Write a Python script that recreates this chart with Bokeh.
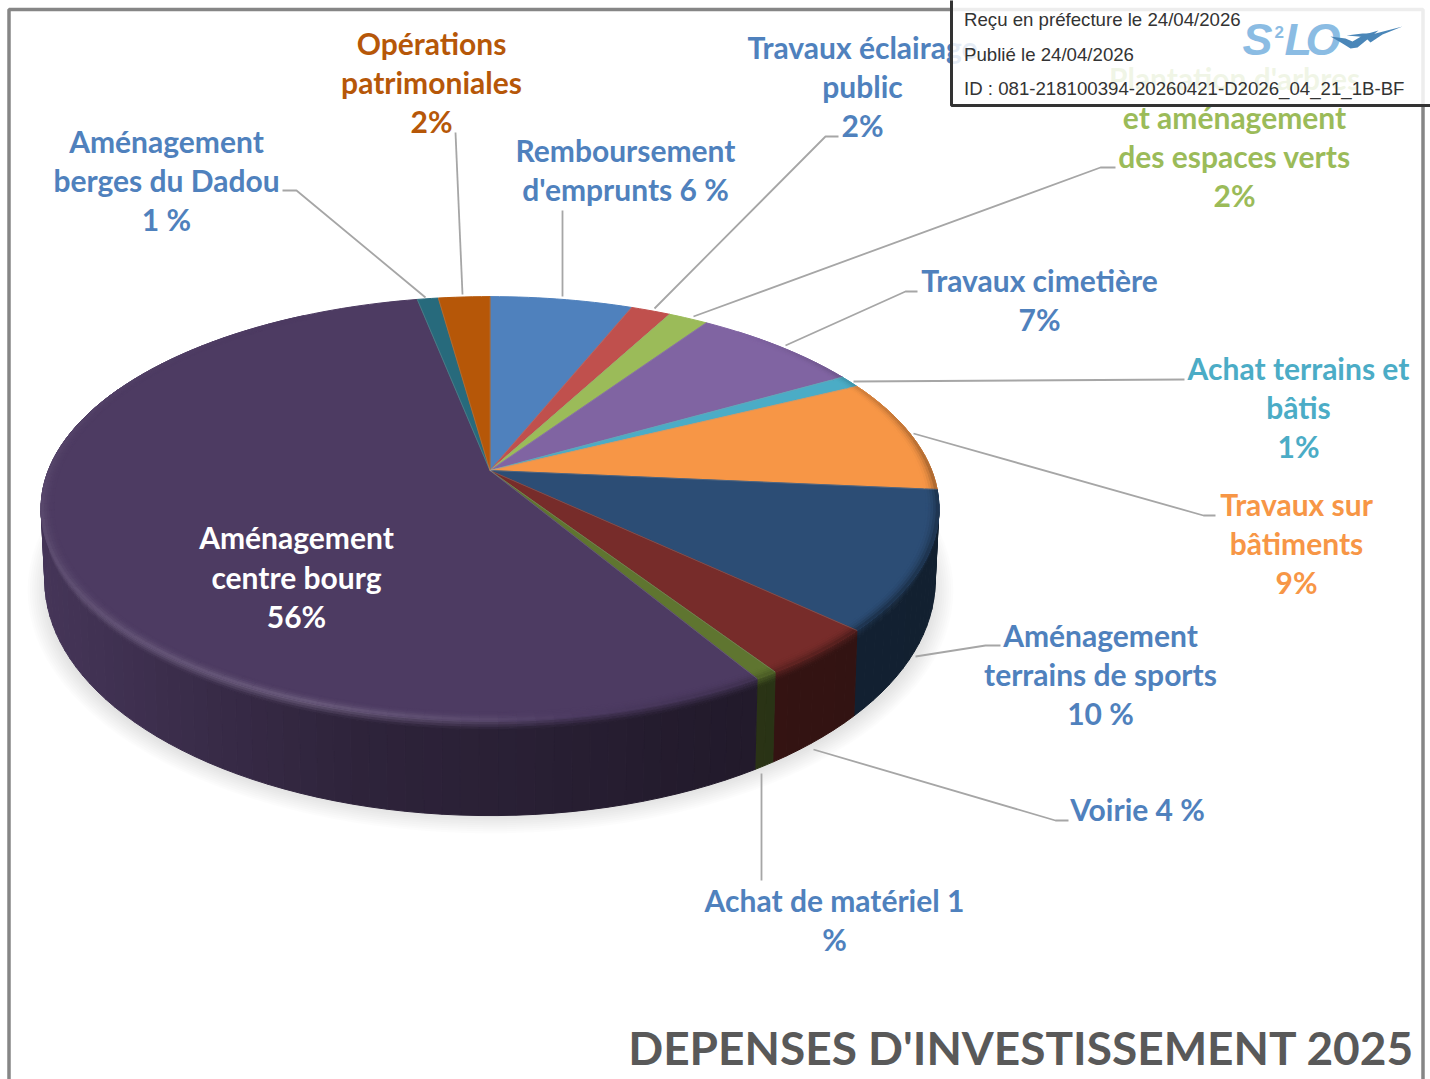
import math
import numpy as np
from bokeh.plotting import figure
from bokeh.models import Range1d
from bokeh.core.properties import value
from bokeh.embed import file_html
from bokeh.resources import INLINE

# ---------- data ----------
categories = ["Remboursement d'emprunts", "Travaux éclairage public",
              "Plantation d'arbres et aménagement des espaces verts", "Travaux cimetière",
              "Achat terrains et bâtis", "Travaux sur bâtiments", "Aménagement terrains de sports",
              "Voirie", "Achat de matériel", "Aménagement centre bourg",
              "Aménagement berges du Dadou", "Opérations patrimoniales"]
shares = [6.1, 1.7, 1.7, 7.25, 0.95, 8.75, 10.55, 3.75, 0.7, 55.45, 0.9, 2.2]
face_colors = ["#4f81bd", "#c0504d", "#9bbb59", "#8064a2", "#4bacc6", "#f79646",
               "#2c4d75", "#772c2a", "#5f7530", "#4d3b62", "#276a7c", "#b65708"]

BLUE, TEAL, GREEN, ORANGE, RUST = "#4f81bd", "#4bacc6", "#9bbb59", "#f79646", "#b65708"
labels = [
    (["Aménagement", "berges du Dadou", "1 %"], 166, [142, 181, 220], BLUE),
    (["Opérations", "patrimoniales", "2%"], 431, [44, 83, 122], RUST),
    (["Remboursement", "d'emprunts 6 %"], 625, [151, 190], BLUE),
    (["Travaux éclairage", "public", "2%"], 862, [48, 87, 126], BLUE),
    (["Plantation d'arbres", "et aménagement", "des espaces verts", "2%"], 1234, [79, 118, 157, 196], GREEN),
    (["Travaux cimetière", "7%"], 1039, [281, 320], BLUE),
    (["Achat terrains et", "bâtis", "1%"], 1298, [369, 408, 447], TEAL),
    (["Travaux sur", "bâtiments", "9%"], 1296, [505, 544, 583], ORANGE),
    (["Aménagement", "terrains de sports", "10 %"], 1100, [636, 675, 714], BLUE),
    (["Voirie 4 %"], 1137, [810], BLUE),
    (["Achat de matériel 1", "%"], 834, [901, 940], BLUE),
    (["Aménagement", "centre bourg", "56%"], 296, [538, 578, 617], "#ffffff"),
]
leaders = [
    ([282, 296, 425], [190, 190, 297]),
    ([455, 462], [132, 294]),
    ([562, 562], [210, 296]),
    ([838, 825, 654], [136, 136, 308]),
    ([1115, 1100, 693], [167, 167, 316]),
    ([917, 905, 785], [291, 291, 345]),
    ([1184, 853], [379, 381]),
    ([1215, 1203, 913], [515, 515, 433]),
    ([1000, 985, 915], [645, 645, 656]),
    ([1068, 1055, 813], [820, 820, 749]),
    ([761, 761], [880, 773]),
]
title = "DEPENSES D'INVESTISSEMENT 2025"
stamp_lines = ["Reçu en préfecture le 24/04/2026", "Publié le 24/04/2026",
               "ID : 081-218100394-20260421-D2026_04_21_1B-BF"]

# ---------- perspective pie model (screen pixels) ----------
K = 0.179
TOP = dict(cx=489.5, cy=470.0, R=441.7, S=205.0)
BOT = dict(cx=489.5, cy=538.0, R=438.0, S=227.5)


def proj(deg, rho, m):
    t = np.radians(deg)
    u, v = rho * np.sin(t), rho * np.cos(t)
    d = 1 + K * v
    return m["cx"] + m["R"] * u / d, m["cy"] - m["S"] * v / d


def rgb(h):
    return np.array([int(h[i:i + 2], 16) for i in (1, 3, 5)], dtype=float)


def tohex(c):
    c = np.clip(np.round(c), 0, 255).astype(int)
    return "#%02x%02x%02x" % tuple(c)


def side_col(base, sx):
    f = np.interp(sx, [40, 100, 200, 350, 500, 700, 860, 940],
                  [.90, .84, .74, .60, .54, .45, .42, .41])
    return base * f


def rim_col(base, deg):
    d = deg % 360
    h = np.interp(d, [0, 40, 90, 130, 150, 180, 200, 240, 270, 300, 330, 360],
                  [0, 0, -.35, -.4, -.2, .08, .18, .12, .06, .02, 0, 0])
    return base + (255 - base) * h if h >= 0 else base * (1 + h)


p = figure(width=1430, height=1079, x_range=Range1d(0, 1430), y_range=Range1d(1079, 0),
           toolbar_location=None, output_backend="svg", min_border=0,
           outline_line_color=None, background_fill_color="#ffffff")
p.xaxis.visible = False
p.yaxis.visible = False
p.grid.visible = False

# frame
p.line([8.5, 8.5, 1422.5, 1422.5], [1085, 9, 9, 1085], line_color="#868686", line_width=3.5)

# soft shadow
for i in range(12):
    p.ellipse(x=[490], y=[590], width=[2 * (463 - i * 2.2)], height=[2 * (243 - i * 2.0)],
              fill_color="#000000", fill_alpha=0.013, line_color=None)

edges = np.cumsum([0] + shares) / sum(shares) * 360
xs, ys, cols = [], [], []


def add(px, py, c):
    xs.append(list(np.round(px, 2)))
    ys.append(list(np.round(py, 2)))
    cols.append(c)


# side wall
W = [0, .025, .05, .075, .10, 1]
for a, b, fc in zip(edges[:-1], edges[1:], face_colors):
    base = rgb(fc)
    lo, hi = max(a, 65), min(b, 295)
    if hi <= lo:
        continue
    n = max(1, math.ceil((hi - lo) / 2))
    th = np.linspace(lo, hi, n + 1)
    for t0, t1 in zip(th[:-1], th[1:]):
        tx0, ty0 = proj(t0, 1, TOP); tx1, ty1 = proj(t1, 1, TOP)
        bx0, by0 = proj(t0, 1, BOT); bx1, by1 = proj(t1, 1, BOT)
        mid = (t0 + t1) / 2
        sc = side_col(base, (tx0 + tx1) / 2)
        rc = rim_col(base, mid)
        for w0, w1 in zip(W[:-1], W[1:]):
            mix = min(1, ((w0 + w1) / 2) / .10)
            c = rc + (sc - rc) * mix
            add([tx0 + (bx0 - tx0) * w0, tx1 + (bx1 - tx1) * w0, tx1 + (bx1 - tx1) * w1, tx0 + (bx0 - tx0) * w1],
                [ty0 + (by0 - ty0) * w0, ty1 + (by1 - ty1) * w0, ty1 + (by1 - ty1) * w1, ty0 + (by0 - ty0) * w1],
                tohex(c))

# top face: flat wedges
for a, b, fc in zip(edges[:-1], edges[1:], face_colors):
    th = np.linspace(a, b, max(2, math.ceil((b - a) / 1.5)) + 1)
    rx, ry = proj(th, 1.0, TOP)
    add([TOP["cx"]] + list(rx), [TOP["cy"]] + list(ry), fc)

# top face: bevel close to the rim
R = np.linspace(.972, 1.0, 6)
for a, b, fc in zip(edges[:-1], edges[1:], face_colors):
    base = rgb(fc)
    n = max(1, math.ceil((b - a) / 2))
    th = np.linspace(a, b, n + 1)
    for t0, t1 in zip(th[:-1], th[1:]):
        rc = rim_col(base, (t0 + t1) / 2)
        if np.allclose(rc, base):
            continue
        for r0, r1 in zip(R[:-1], R[1:]):
            mix = (((r0 + r1) / 2 - R[0]) / (R[-1] - R[0])) ** 2
            x0, y0 = proj(t0, r0, TOP); x1, y1 = proj(t1, r0, TOP)
            x2, y2 = proj(t1, r1, TOP); x3, y3 = proj(t0, r1, TOP)
            add([x0, x1, x2, x3], [y0, y1, y2, y3], tohex(base + (rc - base) * mix))

p.patches(xs, ys, fill_color=cols, line_color=cols, line_width=1.0)

# seams between slices
sx, sy = proj(edges[:-1], 1.0, TOP)
p.segment(x0=[TOP["cx"]] * len(sx), y0=[TOP["cy"]] * len(sx), x1=list(sx), y1=list(sy),
          line_color="#9a9a9a", line_alpha=0.4, line_width=0.8)

# leader lines
p.multi_line([l[0] for l in leaders], [l[1] for l in leaders], line_color="#a6a6a6", line_width=1.8)

# labels
FONT = value("Lato")
for lines, cx, yy, c in labels:
    p.text(x=[cx] * len(lines), y=[v - 2 for v in yy], text=lines, text_color=c, text_font=FONT,
           text_font_style="bold", text_font_size="30px", text_align="center", text_baseline="middle")

p.text(x=[1414], y=[1047], text=[title], text_color="#595959", text_font=FONT, text_font_style="bold",
       text_font_size="46px", text_align="right", text_baseline="middle")

# stamp
p.quad(left=[951], right=[1436], top=[-4], bottom=[105], fill_color="#ffffff", fill_alpha=0.85,
       line_color="#333333", line_width=3)
p.text(x=[963.5] * 3, y=[19, 54, 88], text=stamp_lines, text_color="#333333",
       text_font=value("Liberation Sans"), text_font_size="18.65px", text_align="left", text_baseline="middle")

# logo
LOGO = "#8bbce3"
p.text(x=[1242], y=[39], text=["S"], text_color=LOGO, text_font=value("Liberation Sans"),
       text_font_style="bold italic", text_font_size="45px", text_baseline="middle")
p.text(x=[1274], y=[31], text=["2"], text_color=LOGO, text_font=value("Liberation Sans"),
       text_font_style="bold", text_font_size="17px", text_baseline="middle")
p.text(x=[1284], y=[39], text=["L"], text_color=LOGO, text_font=value("Liberation Sans"),
       text_font_style="bold italic", text_font_size="45px", text_baseline="middle")
p.text(x=[1305], y=[39], text=["O"], text_color=LOGO, text_font=value("Liberation Sans"),
       text_font_style="bold italic", text_font_size="45px", text_baseline="middle")
p.patches([[1330, 1345, 1352, 1364, 1378, 1368, 1357, 1350, 1342],
           [1346, 1362, 1375, 1402, 1382, 1370, 1365, 1358]],
          [[36, 38, 41, 34, 30, 38, 47, 48, 43],
           [35, 33, 33, 26, 34, 42, 37, 36]], fill_color="#4a86b8", line_color=None)

open("out.html", "w").write(file_html(p, INLINE))
